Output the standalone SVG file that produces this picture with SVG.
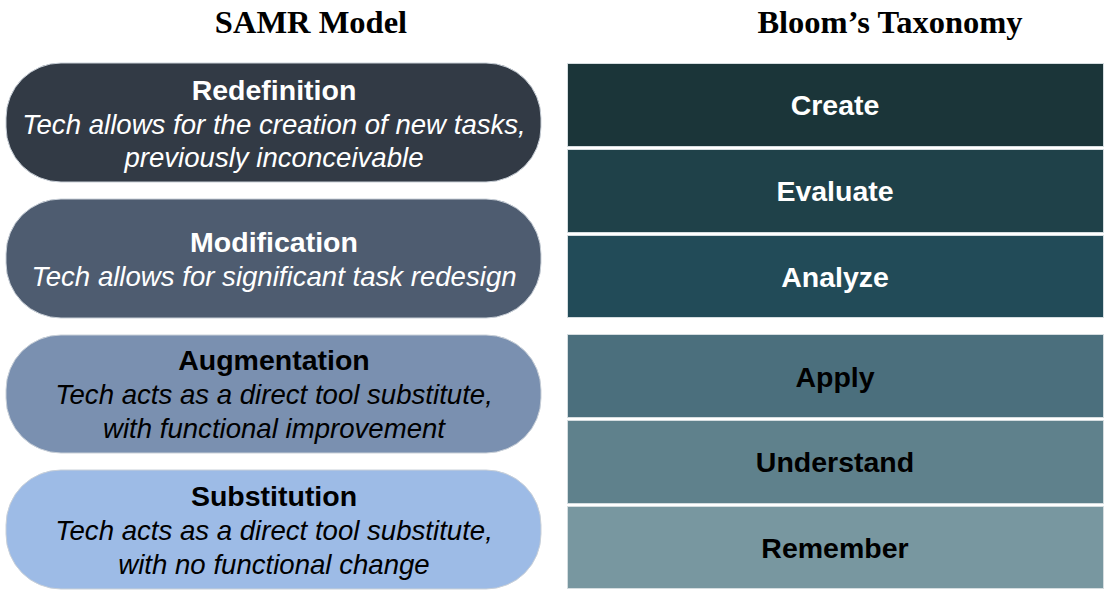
<svg xmlns="http://www.w3.org/2000/svg" width="1110" height="602" viewBox="0 0 1110 602">
<style>
.hdr{font-family:"Liberation Serif","Times New Roman",serif;font-weight:bold;font-size:32.5px;fill:#000;text-anchor:middle}
.t{font-family:"Liberation Sans",Arial,sans-serif;font-weight:bold;font-size:28.5px;text-anchor:middle}
.s{font-family:"Liberation Sans",Arial,sans-serif;font-style:italic;font-size:27.6px;text-anchor:middle}
.w{fill:#fff}
.k{fill:#000}
.pill{stroke:#c9d0d8;stroke-width:1}
.box{stroke:#d5dde0;stroke-width:1}
</style>
<rect width="1110" height="602" fill="#fff"/>
<text class="hdr" x="311" y="33">SAMR Model</text>
<text class="hdr" x="890" y="33">Bloom’s Taxonomy</text>
<g id="redefinition">
<rect class="pill" x="6" y="63" width="535" height="119" rx="55" fill="#323a45"/>
<text class="t w" x="274" y="100">Redefinition</text>
<text class="s w" x="274" y="134">Tech allows for the creation of new tasks,</text>
<text class="s w" x="274" y="167">previously inconceivable</text>
</g>
<g id="modification">
<rect class="pill" x="6" y="199" width="535" height="119" rx="55" fill="#4e5c70"/>
<text class="t w" x="274" y="252">Modification</text>
<text class="s w" x="274" y="286">Tech allows for significant task redesign</text>
</g>
<g id="augmentation">
<rect class="pill" x="6" y="335" width="535" height="118" rx="55" fill="#7a90b0"/>
<text class="t k" x="274" y="370">Augmentation</text>
<text class="s k" x="274" y="404">Tech acts as a direct tool substitute,</text>
<text class="s k" x="274" y="438">with functional improvement</text>
</g>
<g id="substitution">
<rect class="pill" x="6" y="470" width="535" height="119" rx="55" fill="#9dbbe6"/>
<text class="t k" x="274" y="506">Substitution</text>
<text class="s k" x="274" y="540">Tech acts as a direct tool substitute,</text>
<text class="s k" x="274" y="574">with no functional change</text>
</g>
<g id="create">
<rect class="box" x="567.5" y="63.5" width="536" height="83" fill="#1b3539"/>
<text class="t w" x="835" y="115">Create</text>
</g>
<g id="evaluate">
<rect class="box" x="567.5" y="149.5" width="536" height="83" fill="#1f4149"/>
<text class="t w" x="835" y="201">Evaluate</text>
</g>
<g id="analyze">
<rect class="box" x="567.5" y="235.5" width="536" height="82" fill="#224b58"/>
<text class="t w" x="835" y="287">Analyze</text>
</g>
<g id="apply">
<rect class="box" x="567.5" y="334.5" width="536" height="83" fill="#4b6f7d"/>
<text class="t k" x="835" y="387">Apply</text>
</g>
<g id="understand">
<rect class="box" x="567.5" y="420.5" width="536" height="83" fill="#5f818c"/>
<text class="t k" x="835" y="472">Understand</text>
</g>
<g id="remember">
<rect class="box" x="567.5" y="506.5" width="536" height="82" fill="#7897a0"/>
<text class="t k" x="835" y="558">Remember</text>
</g>
<g id="connectors"/>
</svg>
